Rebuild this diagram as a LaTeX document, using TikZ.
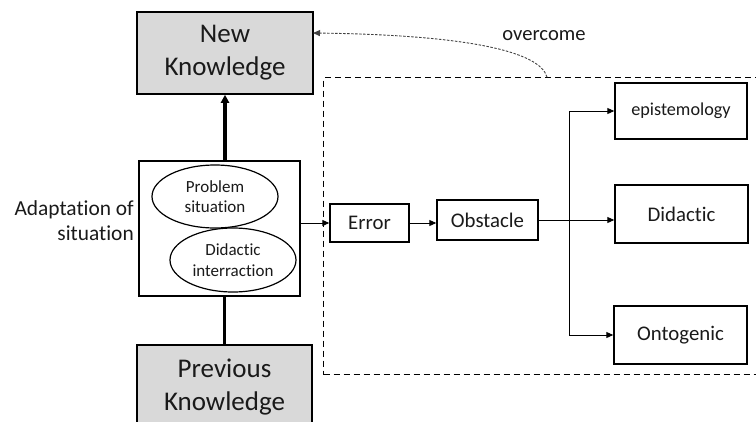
\documentclass[tikz,border=0pt]{standalone}
\usepackage{fontspec}
\setmainfont{Carlito}[Ligatures=NoCommon]
\usetikzlibrary{arrows.meta,shapes.geometric}
\definecolor{boxgray}{HTML}{D9D9D9}
\definecolor{txt}{HTML}{1A1A1A}
\begin{document}
\begin{tikzpicture}[x=1pt,y=-1pt,
  every node/.style={text=txt, inner sep=0pt},
  bigbox/.style={draw=black, line width=1.5pt, fill=boxgray, align=center, font=\fontsize{27}{33}\selectfont},
  plainbox/.style={draw=black, line width=1.4pt, fill=white, align=center, font=\fontsize{20.8}{24}\selectfont},
  ell/.style={draw=black, line width=1.2pt, ellipse, fill=white, align=center, font=\fontsize{17}{20.5}\selectfont},
  thin arrow/.style={line width=0.9pt, -{Triangle[length=7pt,width=6pt]}},
  thick link/.style={line width=3.2pt}
]
\useasboundingbox (0,0) rectangle (756,421);
% dashed frame
\node[draw=black, dash pattern=on 6pt off 4pt, line width=1.3pt, minimum width=460pt, minimum height=297pt, anchor=north west] (frame) at (323,77) {};
\coordinate (ovs) at (547,77);
% left column
\node[bigbox, minimum width=176pt, minimum height=82pt] (new) at (225,53) {New\\Knowledge};
\node[draw=black, line width=1.4pt, fill=white, minimum width=161pt, minimum height=135pt] (sit) at (219.5,228.5) {};
\node[ell, minimum width=126pt, minimum height=63pt] (prob) at (215,196.5) {Problem\\situation};
\node[ell, minimum width=126pt, minimum height=64pt] (dida) at (233,260) {Didactic\\interraction};
\node[bigbox, minimum width=175pt, minimum height=85pt] (prev) at (224.5,387.5) {Previous\\Knowledge};
\node[anchor=east, align=right, font=\fontsize{21.4}{25}\selectfont] (adapt) at (134,221) {Adaptation of\\situation};
\draw[thick link, -{Triangle[length=8pt,width=8pt]}] (sit.north -| new.south) -- (new.south);
\draw[thick link] (sit.south -| prev.north) -- (prev.north);
% right part
\node[plainbox, minimum width=79pt, minimum height=38pt] (err) at (369.5,223) {Error};
\node[plainbox, minimum width=101pt, minimum height=40pt] (obs) at (487.5,220) {Obstacle};
\node[plainbox, minimum width=132pt, minimum height=56pt, font=\fontsize{18.2}{22}\selectfont] (epi) at (681,111) {epistemology};
\node[plainbox, minimum width=133pt, minimum height=58pt] (did) at (681.5,214) {Didactic};
\node[plainbox, minimum width=133pt, minimum height=58pt] (ont) at (680.5,335) {Ontogenic};
\coordinate (jt) at (569,220);
\draw[thin arrow] (sit.east |- err.west) -- (err.west);
\draw[thin arrow] (err.east) -- (obs.west |- err.east);
\draw[thin arrow] (obs.east) -- (did.west |- obs.east);
\draw[line width=0.9pt] (jt |- epi.west) -- (jt |- ont.west);
\draw[thin arrow] (jt |- epi.west) -- (epi.west);
\draw[thin arrow] (jt |- ont.west) -- (ont.west);
% overcome
\coordinate (newin) at (313,33);
\draw[draw=black!75, dash pattern=on 2.5pt off 1.5pt, line width=0.9pt, -{Triangle[length=7pt,width=6pt]}] (ovs) .. controls (540,52) and (470,35) .. (newin);
\node[font=\fontsize{20.6}{24}\selectfont, anchor=base] (ovl) at (544,40) {overcome};
\end{tikzpicture}
\end{document}
